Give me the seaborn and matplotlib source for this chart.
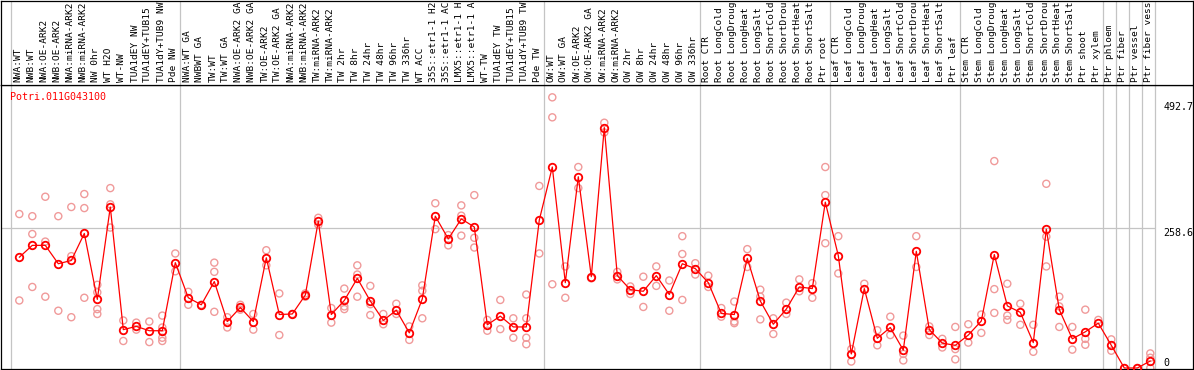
import numpy as np
import pandas as pd
import matplotlib
matplotlib.use("Agg")
import matplotlib.pyplot as plt
import seaborn as sns

gene_id = "Potri.011G043100"

categories = [
    "NWA:WT", "NWB:WT", "NWA:OE-ARK2", "NWB:OE-ARK2", "NWA:miRNA-ARK2", "NWB:miRNA-ARK2",
    "NW 0hr", "WT H2O", "WT-NW", "TUA1dEY NW", "TUA1dEY+TUB15 NW", "TUA1dY+TUB9 NW", "Pde NW",
    "NWA:WT GA", "NWBWT GA", "TW:WT", "TW:WT GA", "NWA:OE-ARK2 GA", "NWB:OE-ARK2 GA",
    "TW:OE-ARK2", "TW:OE-ARK2 GA", "NWA:miRNA-ARK2", "NWB:miRNA-ARK2", "TW:miRNA-ARK2",
    "TW:miRNA-ARK2", "TW 2hr", "TW 8hr", "TW 24hr", "TW 48hr", "TW 96hr", "TW 336hr",
    "WT ACC", "35S::etr1-1 H2O", "35S::etr1-1 ACC", "LMX5::etr1-1 H2O", "LMX5::etr1-1 ACC",
    "WT-TW", "TUA1dEY TW", "TUA1dEY+TUB15 TW", "TUA1dY+TUB9 TW", "Pde TW",
    "OW:WT", "OW:WT GA", "OW:OE-ARK2", "OW:OE-ARK2 GA", "OW:miRNA-ARK2", "OW:miRNA-ARK2",
    "OW 2hr", "OW 8hr", "OW 24hr", "OW 48hr", "OW 96hr", "OW 336hr",
    "Root CTR", "Root LongCold", "Root LongDrought", "Root LongHeat", "Root LongSalt",
    "Root ShortCold", "Root ShortDrought", "Root ShortHeat", "Root ShortSalt", "Ptr root",
    "Leaf CTR", "Leaf LongCold", "Leaf LongDrought", "Leaf LongHeat", "Leaf LongSalt",
    "Leaf ShortCold", "Leaf ShortDrought", "Leaf ShortHeat", "Leaf ShortSalt", "Ptr leaf",
    "Stem CTR", "Stem LongCold", "Stem LongDrought", "Stem LongHeat", "Stem LongSalt",
    "Stem ShortCold", "Stem ShortDrought", "Stem ShortHeat", "Stem ShortSalt", "Ptr shoot",
    "Ptr xylem", "Ptr phloem", "Ptr fiber", "Ptr vessel", "Ptr fiber vessel",
]
label_max_chars = 14

means = [
    205, 227, 227, 193, 199, 249, 127, 298, 71, 77, 69, 69, 195,
    130, 117, 160, 86, 112, 86, 204, 99, 100, 135, 272, 99, 125, 166, 124, 88, 107, 65,
    128, 281, 239, 276, 261, 80, 96, 76, 76, 274,
    372, 158, 354, 169, 445, 171, 145, 142, 171, 136, 193, 184,
    158, 101, 99, 203, 124, 81, 109, 150, 147, 307,
    208, 26, 147, 55, 75, 33, 216, 71, 46, 42,
    61, 87, 210, 115, 103, 47, 257, 108, 54, 67,
    83, 42, 0, 0, 13,
]

replicates = [
    [285, 125], [281, 248, 150], [317, 234, 132], [281, 106], [298, 207, 94],
    [322, 296, 130], [154, 140, 109, 100], [333, 303, 260], [88, 50], [84, 71],
    [86, 48], [97, 75, 56, 50], [212, 179],
    [141, 117], [117], [195, 178, 104], [94, 75], [117, 108], [100, 71],
    [218, 190], [138, 61], [100], [138, 132], [278, 265], [111, 84],
    [147, 114, 109], [190, 173, 132], [152, 118, 98], [100, 81], [119, 100], [77, 52],
    [153, 143, 92], [305, 257], [246, 227], [301, 282, 245], [320, 241, 223],
    [89, 69], [126, 72], [92, 56], [136, 92, 56, 44], [337, 212],
    [501, 464, 155], [188, 130], [372, 333], [166], [454, 436], [178, 164],
    [151, 137], [169, 113], [188, 152], [162, 106], [244, 211, 126], [194, 173],
    [171, 150], [111, 95], [123, 86, 83], [220, 187], [145, 132, 90],
    [92, 63], [121, 100], [164, 142], [157, 130], [372, 320, 231],
    [244, 175], [35, 12], [156], [70, 42], [95, 61],
    [60, 26, 14], [244, 187], [77, 61], [54, 38], [76, 35, 16],
    [81, 47], [99, 65], [383, 146, 102], [156, 97, 89], [119, 80],
    [80, 30], [341, 243, 188], [132, 114, 76], [76, 34], [108, 54, 43],
    [89], [53, 32], [0], [0], [27, 19, 0],
]

group_starts = [0, 13, 41, 53, 63, 73, 84, 85, 86, 87, 88]
value_labels = ["492.7", "258.6", "0"]
value_positions = [492.7, 258.6, 0.0]
grid_value = 258.6

# ---- data frames ----
idx = np.arange(len(categories))
mean_df = pd.DataFrame({"idx": idx, "value": means})
rep_rows = [(i, v) for i, reps in enumerate(replicates) for v in reps]
rep_df = pd.DataFrame(rep_rows, columns=["idx", "value"])

sns.set_theme(style="white")
plt.rcParams["font.family"] = ["DejaVu Sans Mono", "DejaVu Sans"]

W, H = 1194, 370
fig = plt.figure(figsize=(W / 100, H / 100), dpi=100)
fig.patch.set_facecolor("white")


def fx(px):
    return px / W


def fy(py):
    return 1 - py / H


ax = fig.add_axes([fx(0.5), fy(369), fx(1193) - fx(0.5), fy(85) - fy(369)])
ax_top = fig.add_axes([fx(0.5), fy(85), fx(1193) - fx(0.5), fy(0.5) - fy(85)], sharex=ax)

x0, step = 19.3, 13.0
xmin = (0.5 - x0) / step
xmax = (1193 - x0) / step
ppu = 1.851  # data units per pixel
y_zero_px = 368
ax.set_xlim(xmin, xmax)
ax.set_ylim((y_zero_px - 369) * ppu, (y_zero_px - 85) * ppu)
ax_top.set_ylim(0, 1)

grid_col = "#C4C4C4"
for a in (ax, ax_top):
    for b in group_starts:
        a.axvline(b - 0.64, color=grid_col, lw=0.9, zorder=0)
    a.set_xticks([])
    a.set_yticks([])
    for s in a.spines.values():
        s.set_color("black")
        s.set_linewidth(0.9)
        s.set_visible(True)
    a.set_xlabel("")
    a.set_ylabel("")

ax.hlines(grid_value, xmin, group_starts[-1] - 0.64, color=grid_col, lw=0.9, zorder=0)

sns.scatterplot(data=rep_df, x="idx", y="value", ax=ax, marker="o", s=26,
                color="#F09A9A", facecolor="none", edgecolor="#F09A9A",
                linewidth=1.0, zorder=2, legend=False)
sns.lineplot(data=mean_df, x="idx", y="value", ax=ax, color="red", lw=0.9,
             marker="o", markersize=5.4, markerfacecolor="none",
             markeredgecolor="red", markeredgewidth=1.3, zorder=3, legend=False)
ax.set_xlabel("")
ax.set_ylabel("")
ax.set_xticks([])
ax.set_yticks([])
ax.set_xlim(xmin, xmax)

# category labels in the header band (shown truncated, as in the original)
for i, lab in enumerate(categories):
    ax_top.text(i - 0.1, 0.035, lab[:label_max_chars], rotation=90, ha="center",
                va="bottom", fontsize=6.8, color="black", clip_on=False)

# value labels on the right
for v, lab in zip(value_positions, value_labels):
    ax.text(88.0, v, lab, ha="left", va="bottom" if v == 0 else "top",
            fontsize=7.2, color="black")

ax.text((10 - 0.5) / 1192.5, 1 - 7 / 284, gene_id, transform=ax.transAxes,
        ha="left", va="top", fontsize=7.2, color="red")

fig.savefig("out.png", dpi=100, facecolor="white")
